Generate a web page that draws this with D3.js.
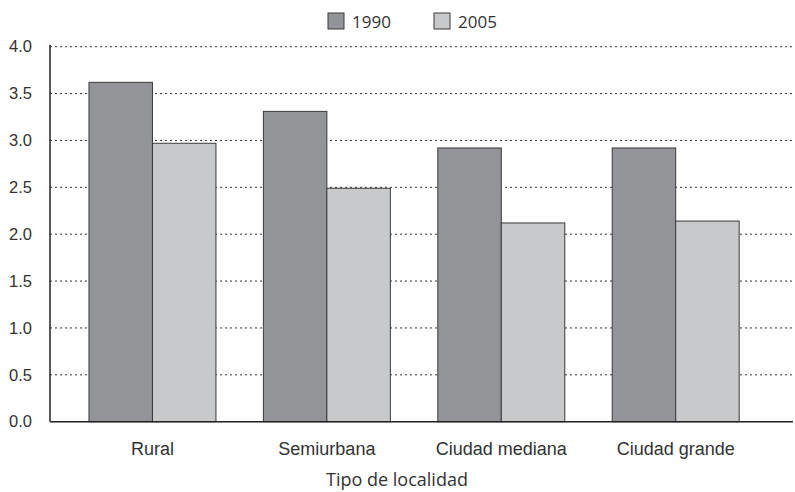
<!DOCTYPE html>
<html>
<head>
<meta charset="utf-8">
<script src="https://cdn.jsdelivr.net/npm/d3@7"></script>
<style>
  html, body { margin: 0; padding: 0; background: #fff; }
  svg { display: block; font-family: "Open Sans", "Noto Sans", sans-serif; }
</style>
</head>
<body>
<svg id="chart" width="795" height="492"></svg>
<script>
// Tipo de localidad, valores 1990 y 2005
const categories = ["Rural", "Semiurbana", "Ciudad mediana", "Ciudad grande"];
const seriesNames = ["1990", "2005"];
const values1990 = [3.62, 3.31, 2.92, 2.92];
const values2005 = [2.97, 2.49, 2.12, 2.14];
const yTicks = [0, 0.5, 1.0, 1.5, 2.0, 2.5, 3.0, 3.5, 4.0];
const seriesColors = ["#939497", "#c8c9cb"];
const xTitle = "Tipo de localidad";

const rows = categories.map((c, i) => ({ cat: c, vals: [values1990[i], values2005[i]] }));

const svg = d3.select("#chart");
const plotLeft = 50, plotRight = 793, plotTop = 46.7, plotBottom = 421.7;

const x = d3.scaleBand().domain(categories).range([plotLeft, plotRight])
  .paddingInner(0.272).paddingOuter(0.266).align(0.42);
const xSub = d3.scaleBand().domain(seriesNames).range([0, x.bandwidth()]);
const y = d3.scaleLinear().domain([0, 4]).range([plotBottom, plotTop]);

// dotted gridlines
svg.append("g").selectAll("line").data(yTicks.filter(d => d > 0)).join("line")
  .attr("x1", plotLeft).attr("x2", plotRight)
  .attr("y1", d => y(d)).attr("y2", d => y(d))
  .attr("stroke", "#333").attr("stroke-width", 1)
  .attr("stroke-dasharray", "2,3");

// bars
const groups = svg.append("g").selectAll("g").data(rows).join("g")
  .attr("transform", d => `translate(${x(d.cat)},0)`);
groups.selectAll("rect").data(d => d.vals.map((v, j) => ({ v, s: seriesNames[j], j })))
  .join("rect")
  .attr("x", d => xSub(d.s))
  .attr("y", d => y(d.v))
  .attr("width", xSub.bandwidth())
  .attr("height", d => y(0) - y(d.v))
  .attr("fill", d => seriesColors[d.j])
  .attr("stroke", "#3a3a3a").attr("stroke-width", 1);

// y axis
const yAxis = svg.append("g").attr("transform", `translate(${plotLeft},0)`)
  .call(d3.axisLeft(y).tickValues(yTicks).tickFormat(d3.format(".1f")).tickSize(0).tickPadding(18));
yAxis.select(".domain").attr("stroke", "#222").attr("stroke-width", 1.5).attr("d", `M0,${plotTop - 2}V${plotBottom}`);
yAxis.selectAll("text").attr("font-size", 16.5).attr("fill", "#333").attr("font-family", null);

// x axis
const xAxis = svg.append("g").attr("transform", `translate(0,${plotBottom})`)
  .call(d3.axisBottom(x).tickSize(0).tickPadding(21));
xAxis.select(".domain").attr("stroke", "#222").attr("stroke-width", 1.5).attr("d", `M${plotLeft},0H${plotRight}`);
xAxis.selectAll("text").attr("font-size", 18).attr("fill", "#333").attr("font-family", null);

svg.append("text").attr("x", 397).attr("y", 486).attr("text-anchor", "middle")
  .attr("font-size", 18).attr("fill", "#333").text(xTitle);

// legend
const legendX = [328, 434];
const legend = svg.append("g").selectAll("g").data(seriesNames).join("g")
  .attr("transform", (d, i) => `translate(${legendX[i]},13)`);
legend.append("rect").attr("width", 16).attr("height", 16)
  .attr("fill", (d, i) => seriesColors[i]).attr("stroke", "#3a3a3a").attr("stroke-width", 1);
legend.append("text").attr("x", 24).attr("y", 14.5).attr("font-size", 17).attr("fill", "#333").text(d => d);
</script>
</body>
</html>
